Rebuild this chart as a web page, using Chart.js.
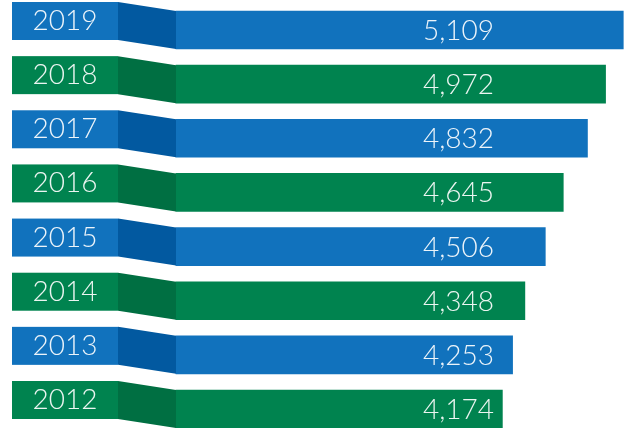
<!DOCTYPE html>
<html>
<head>
<meta charset="utf-8">
<script src="https://cdn.jsdelivr.net/npm/chart.js@4/dist/chart.umd.min.js"></script>
<style>
html,body{margin:0;padding:0;background:#fff;}
#wrap{width:633px;height:428px;position:relative;}
</style>
</head>
<body>
<div id="wrap"><canvas id="c" width="633" height="428"></canvas></div>
<script>
const years = ['2019','2018','2017','2016','2015','2014','2013','2012'];
const visitors = [5109, 4972, 4832, 4645, 4506, 4348, 4253, 4174];
const barColors = ['#1172bd','#00834f','#1172bd','#00834f','#1172bd','#00834f','#1172bd','#00834f'];
const foldColors = ['#0259a0','#006f42','#0259a0','#006f42','#0259a0','#006f42','#0259a0','#006f42'];
const axisMin = 1650, axisMax = 5130;

const fmt = v => v.toLocaleString('en-US');

const ribbonPlugin = {
  id: 'ribbon',
  afterDatasetsDraw(chart) {
    const ctx = chart.ctx;
    const meta = chart.getDatasetMeta(0);
    const area = chart.chartArea;
    const boxL = 12, boxR = 118, shift = 9;
    meta.data.forEach((bar, i) => {
      const h = bar.height;
      const top = bar.y - h / 2;
      const bot = bar.y + h / 2;
      const barL = area.left;
      ctx.save();
      ctx.fillStyle = barColors[i];
      ctx.fillRect(boxL, top - shift, boxR - boxL, h);
      ctx.fillStyle = foldColors[i];
      ctx.beginPath();
      ctx.moveTo(boxR, top - shift);
      ctx.lineTo(barL, top);
      ctx.lineTo(barL, bot);
      ctx.lineTo(boxR, bot - shift);
      ctx.closePath();
      ctx.fill();
      ctx.fillStyle = 'rgba(255,255,255,0.92)';
      ctx.font = '300 28px Lato';
      ctx.textAlign = 'center';
      ctx.textBaseline = 'middle';
      ctx.fillText(years[i], (boxL + boxR) / 2, bar.y - shift);
      ctx.textAlign = 'right';
      ctx.fillText(fmt(visitors[i]), area.left + 318, bar.y + 1);
      ctx.restore();
    });
  }
};

new Chart(document.getElementById('c'), {
  type: 'bar',
  data: {
    labels: years,
    datasets: [{
      data: visitors,
      base: axisMin,
      backgroundColor: barColors,
      borderWidth: 0,
      barThickness: 38,
      clip: false
    }]
  },
  options: {
    indexAxis: 'y',
    responsive: false,
    animation: false,
    layout: { padding: { left: 176, right: 7, top: 30, bottom: 19 } },
    plugins: { legend: { display: false }, tooltip: { enabled: false } },
    scales: {
      x: { display: false, min: axisMin, max: axisMax },
      y: { display: false, offset: false }
    }
  },
  plugins: [ribbonPlugin]
});
</script>
</body>
</html>
